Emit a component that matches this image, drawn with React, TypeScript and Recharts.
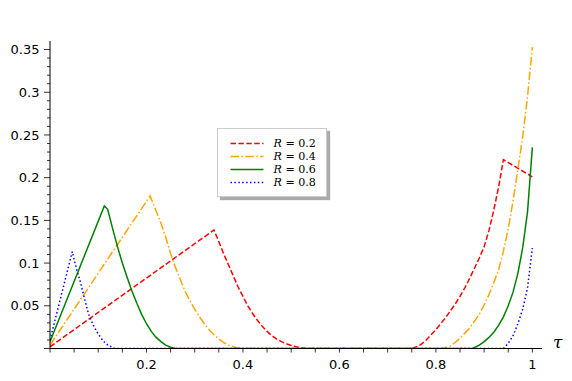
import React from "react";
import { LineChart, Line, XAxis, YAxis, Legend } from "recharts";

const r02: [number, number][] = [
  [0, 0.002], [0.34, 0.1388], [0.35, 0.125], [0.36, 0.111], [0.37, 0.098], [0.38, 0.085],
  [0.39, 0.072], [0.4, 0.061], [0.41, 0.05], [0.42, 0.041], [0.43, 0.033], [0.44, 0.026],
  [0.45, 0.02], [0.46, 0.015], [0.47, 0.011], [0.48, 0.008], [0.49, 0.0055], [0.5, 0.0035],
  [0.51, 0.002], [0.52, 0.001], [0.53, 0], [0.75, 0], [0.76, 0.002], [0.77, 0.005],
  [0.78, 0.01], [0.79, 0.016], [0.8, 0.022], [0.81, 0.029], [0.82, 0.036], [0.83, 0.044],
  [0.84, 0.052], [0.85, 0.061], [0.86, 0.071], [0.87, 0.082], [0.88, 0.094], [0.89, 0.106],
  [0.9, 0.119], [0.91, 0.138], [0.92, 0.162], [0.93, 0.189], [0.94, 0.221], [1, 0.201],
];

const r04: [number, number][] = [
  [0, 0.004], [0.2075, 0.1786], [0.22, 0.161], [0.23, 0.147], [0.24, 0.13], [0.25, 0.111],
  [0.26, 0.095], [0.27, 0.081], [0.28, 0.067], [0.29, 0.056], [0.3, 0.046], [0.31, 0.037],
  [0.32, 0.029], [0.33, 0.022], [0.34, 0.016], [0.35, 0.011], [0.36, 0.007], [0.37, 0.004],
  [0.38, 0.002], [0.39, 0.0005], [0.4, 0], [0.81, 0], [0.82, 0.001], [0.83, 0.003],
  [0.84, 0.007], [0.85, 0.012], [0.86, 0.018], [0.87, 0.024], [0.88, 0.032], [0.89, 0.04],
  [0.9, 0.051], [0.91, 0.063], [0.92, 0.077], [0.93, 0.092], [0.94, 0.114], [0.95, 0.14],
  [0.96, 0.173], [0.97, 0.21], [0.98, 0.248], [0.99, 0.295], [1, 0.353],
];

const r06: [number, number][] = [
  [0, 0.008], [0.1127, 0.1669], [0.1195, 0.163], [0.13, 0.14], [0.14, 0.119], [0.15, 0.1],
  [0.16, 0.083], [0.17, 0.067], [0.18, 0.053], [0.19, 0.04], [0.2, 0.029], [0.21, 0.02],
  [0.22, 0.013], [0.23, 0.008], [0.24, 0.004], [0.25, 0.0015], [0.26, 0], [0.876, 0],
  [0.89, 0.004], [0.9, 0.008], [0.91, 0.013], [0.92, 0.019], [0.93, 0.027], [0.94, 0.037],
  [0.95, 0.05], [0.96, 0.066], [0.97, 0.088], [0.98, 0.118], [0.99, 0.16], [1, 0.2355],
];

const r08: [number, number][] = [
  [0, 0.01], [0.0462, 0.1134], [0.055, 0.093], [0.062, 0.08], [0.07, 0.062], [0.08, 0.04],
  [0.09, 0.027], [0.1, 0.017], [0.11, 0.009], [0.12, 0.004], [0.13, 0.001], [0.135, 0],
  [0.94, 0], [0.95, 0.006], [0.96, 0.015], [0.97, 0.029], [0.98, 0.046], [0.99, 0.071],
  [1, 0.1175],
];

const xMajorTicks = [0.2, 0.4, 0.6, 0.8, 1];
const xMinorTicks = [0, 0.05, 0.1, 0.15, 0.25, 0.3, 0.35, 0.45, 0.5, 0.55, 0.65, 0.7, 0.75, 0.85, 0.9, 0.95];
const yMajorTicks = [0.05, 0.1, 0.15, 0.2, 0.25, 0.3, 0.35];
const yMinorTicks = [
  0.01, 0.02, 0.03, 0.04, 0.06, 0.07, 0.08, 0.09, 0.11, 0.12, 0.13, 0.14, 0.16, 0.17, 0.18, 0.19,
  0.21, 0.22, 0.23, 0.24, 0.26, 0.27, 0.28, 0.29, 0.31, 0.32, 0.33, 0.34,
];
const yZeroTick = [0];

const toRows = (pts: [number, number][]) => pts.map(([x, y]) => ({ x, y }));

const series = [
  { key: "r02", label: "0.2", data: toRows(r02), color: "#ff0000", dash: "5.5 2.4" },
  { key: "r04", label: "0.4", data: toRows(r04), color: "#ffa500", dash: "8.5 2.4 1.5 2.4" },
  { key: "r06", label: "0.6", data: toRows(r06), color: "#008000", dash: undefined },
  { key: "r08", label: "0.8", data: toRows(r08), color: "#0000ff", dash: "1.5 2.4" },
];

const isIn = (arr: number[], v: number) => arr.some((t) => Math.abs(t - v) < 1e-9);

const XTick = ({ x, y, payload }: any) => {
  const major = isIn(xMajorTicks, payload.value);
  return (
    <g>
      <line x1={x} y1={y} x2={x} y2={y + 4} stroke="#000" strokeWidth={0.8} />
      {major && (
        <text x={x} y={y + 20} textAnchor="middle" fontSize={13} fill="#000" fontFamily="DejaVu Sans">
          {payload.value}
        </text>
      )}
    </g>
  );
};

const YTick = ({ x, y, payload }: any) => {
  const major = isIn(yMajorTicks, payload.value) || payload.value === 0;
  const labelled = isIn(yMajorTicks, payload.value);
  return (
    <g>
      <line x1={x - (major ? 6 : 3)} y1={y} x2={x} y2={y} stroke="#000" strokeWidth={0.8} />
      {labelled && (
        <text x={x - 10.5} y={y + 4.7} textAnchor="end" fontSize={13} fill="#000" fontFamily="DejaVu Sans">
          {payload.value}
        </text>
      )}
    </g>
  );
};

const LegendBox = () => (
  <div
    style={{
      width: 108,
      height: 59,
      border: "1px solid #cccccc",
      background: "#fff",
      boxShadow: "3px 3px 1px #aaaaaa",
      paddingTop: 8,
      boxSizing: "content-box",
    }}
  >
    {series.map((s) => (
      <div key={s.key} style={{ display: "flex", alignItems: "center", height: 13 }}>
        <svg width={46} height={13} style={{ display: "block" }}>
          <line x1={12.5} y1={6.5} x2={45.5} y2={6.5} stroke={s.color} strokeWidth={1.5} strokeDasharray={s.dash} />
        </svg>
        <span
          style={{
            display: "inline-block",
            height: 13,
            marginLeft: 9.5,
            fontFamily: "DejaVu Serif",
            fontSize: 11.1,
            lineHeight: "13px",
            color: "#000",
            whiteSpace: "nowrap",
          }}
        >
          <i>R</i>
          {` = ${s.label}`}
        </span>
      </div>
    ))}
  </div>
);

export default function App() {
  return (
    <div style={{ position: "absolute", left: 0, top: 0, width: 572, height: 381, background: "#fff" }}>
      <LineChart width={572} height={381} margin={{ top: 41, right: 30, bottom: 0, left: 0 }}>
        <XAxis
          type="number"
          dataKey="x"
          domain={[0, 1.02]}
          allowDataOverflow
          ticks={[...xMinorTicks, ...xMajorTicks]}
          interval={0}
          height={32.5}
          tickSize={0}
          tickMargin={0}
          tickLine={false}
          axisLine={{ stroke: "#000", strokeWidth: 1 }}
          tick={<XTick />}
          label={({ viewBox }: any) => (
            <text
              x={viewBox.x + viewBox.width + 11}
              y={viewBox.y - 0.5}
              fontFamily="DejaVu Serif"
              fontStyle="italic"
              fontSize={17}
              fill="#000"
            >
              τ
            </text>
          )}
        />
        <YAxis
          type="number"
          domain={[0, 0.36]}
          allowDataOverflow
          ticks={[...yZeroTick, ...yMinorTicks, ...yMajorTicks]}
          interval={0}
          width={50}
          tickSize={0}
          tickMargin={0}
          tickLine={false}
          axisLine={{ stroke: "#000", strokeWidth: 1 }}
          tick={<YTick />}
        />
        <Legend
          layout="vertical"
          align="center"
          verticalAlign="middle"
          content={<LegendBox />}
          wrapperStyle={{ position: "absolute", left: 217, top: 128, width: "auto", height: "auto" }}
        />
        {series.map((s) => (
          <Line
            key={s.key}
            data={s.data}
            dataKey="y"
            name={s.key}
            type="linear"
            stroke={s.color}
            strokeWidth={1.5}
            strokeDasharray={s.dash}
            dot={false}
            activeDot={false}
            isAnimationActive={false}
          />
        ))}
      </LineChart>
    </div>
  );
}
